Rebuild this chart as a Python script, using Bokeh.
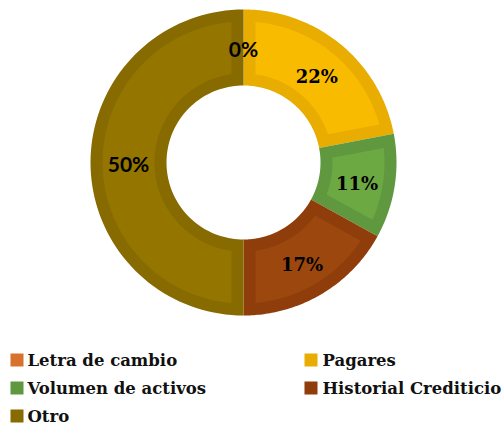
import math
from bokeh.plotting import figure
from bokeh.models import Range1d
from bokeh.core.properties import value
from bokeh.embed import file_html
from bokeh.resources import INLINE

# ---- data ----
categories = ["Letra de cambio", "Pagares", "Volumen de activos", "Historial Crediticio", "Otro"]
values = [0, 22, 11, 17, 50]
labels = ["0%", "22%", "11%", "17%", "50%"]
band_colors = ["#D8702E", "#E8AD00", "#5F983E", "#8E3D0B", "#876A00"]
fill_colors = ["#E07A35", "#F9BB00", "#6DA943", "#9B470E", "#937500"]
label_fonts = ["Lato", "DejaVu Serif", "DejaVu Serif", "DejaVu Serif", "Lato"]

# ---- layout ----
W, H = 503, 430
CX, CY = 243, 162
R_OUT, R_IN = 153, 77
BAND = 12
R_LAB = 115

p = figure(width=W, height=H, output_backend="svg", toolbar_location=None,
           x_range=Range1d(0, W), y_range=Range1d(H, 0),
           min_border=0)
p.axis.visible = False
p.grid.visible = False
p.outline_line_color = None
p.background_fill_color = "white"
p.border_fill_color = "white"


def pt(r, th):
    return CX + r * math.sin(th), CY - r * math.cos(th)


def arc(r, a0, a1, n=80):
    xs, ys = [], []
    for k in range(n + 1):
        t = a0 + (a1 - a0) * k / n
        x, y = pt(r, t)
        xs.append(x)
        ys.append(y)
    return xs, ys


total = float(sum(values))
outer_x, outer_y, ocol = [], [], []
inner_x, inner_y, icol = [], [], []
lab_x, lab_y, lab_t, lab_f = [], [], [], []
cum = 0.0
for cat, v, lab, bc, fc, lf in zip(categories, values, labels, band_colors, fill_colors, label_fonts):
    a0 = 2 * math.pi * cum / total
    a1 = 2 * math.pi * (cum + v) / total
    mid = (a0 + a1) / 2
    cum += v
    x, y = pt(R_LAB, mid)
    lab_x.append(x); lab_y.append(y); lab_t.append(lab); lab_f.append(lf)
    if v <= 0:
        continue
    xo, yo = arc(R_OUT, a0, a1)
    xi, yi = arc(R_IN, a1, a0)
    outer_x.append(xo + xi); outer_y.append(yo + yi); ocol.append(bc)
    ro, ri = R_OUT - BAND, R_IN + BAND
    do, di = math.asin(BAND / ro), math.asin(BAND / ri)
    xo2, yo2 = arc(ro, a0 + do, a1 - do)
    xi2, yi2 = arc(ri, a1 - di, a0 + di)
    inner_x.append(xo2 + xi2); inner_y.append(yo2 + yi2); icol.append(fc)

p.patches(xs=outer_x, ys=outer_y, fill_color=ocol, line_color=None)
p.patches(xs=inner_x, ys=inner_y, fill_color=icol, line_color=None)

for i in range(len(lab_t)):
    serif = lab_f[i] != "Lato"
    p.text(x=[lab_x[i]], y=[lab_y[i]], text=[lab_t[i]], text_font=value(lab_f[i]),
           text_font_style="bold", text_font_size="18px" if serif else "21px",
           y_offset=3 if serif else 1,
           text_align="center", text_baseline="middle", text_color="black")

# ---- legend ----
sq_l, sq_t, tx_l = [], [], []
for i, cat in enumerate(categories):
    col, row = i % 2, i // 2
    sq_l.append(10 + col * 294)
    sq_t.append(353 + row * 28)
    tx_l.append(27 + col * 295)

p.quad(left=sq_l, right=[v + 13 for v in sq_l], top=sq_t, bottom=[v + 13 for v in sq_t],
       fill_color=band_colors, line_color=None)
p.text(x=tx_l, y=[v + 7 for v in sq_t], text=categories, text_font=value("DejaVu Serif"),
       text_font_style="bold", text_font_size="16.5px", text_align="left",
       text_baseline="middle", text_color="#111111")

open("out.html", "w").write(file_html(p, INLINE))
